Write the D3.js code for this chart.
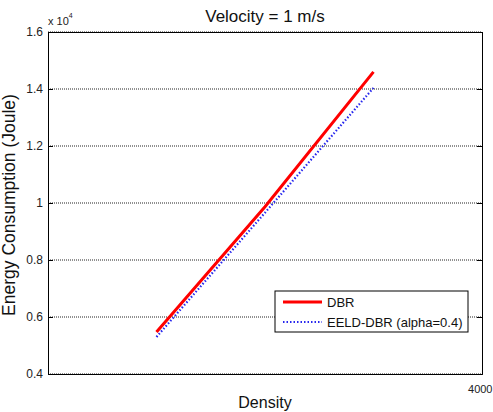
<!DOCTYPE html>
<html><head><meta charset="utf-8">
<script src="https://cdn.jsdelivr.net/npm/d3@7"></script>
<style>body{margin:0;background:#fff}svg{display:block}text{font-family:"Liberation Sans",Arial,sans-serif}</style>
</head><body><svg id="c" width="493" height="412"></svg>
<script>
const density = [1000, 2000, 3000];
const dbr = [5470, 9870, 14600];
const eeld = [5300, 9660, 14040];
const yTicks = [4000, 6000, 8000, 10000, 12000, 14000, 16000];
const yTickLabels = ["0.4", "0.6", "0.8", "1", "1.2", "1.4", "1.6"];
const xTicks = [4000];
const xTickLabels = ["4000"];
const seriesNames = ["DBR", "EELD-DBR (alpha=0.4)"];

const svg = d3.select("#c");
const L = 48, R = 482, T = 32, B = 374;
const x = d3.scaleLinear().domain([0, 4000]).range([L, R]);
const y = d3.scaleLinear().domain([4000, 16000]).range([B, T]);

// gridlines
svg.append("g").selectAll("line").data(yTicks).join("line")
  .attr("x1", L).attr("x2", R).attr("y1", d => y(d)).attr("y2", d => y(d))
  .attr("stroke", "#222").attr("stroke-width", 1).attr("stroke-dasharray", "1,1");

// axes
const yAxis = d3.axisLeft(y).tickValues(yTicks).tickSize(-5).tickPadding(5)
  .tickFormat((d, i) => yTickLabels[i]);
const gy = svg.append("g").attr("transform", `translate(${L},0)`).call(yAxis);
gy.select(".domain").attr("stroke", "#000");
gy.selectAll(".tick text").attr("font-size", 12).attr("fill", "#222");
const gyr = svg.append("g").attr("transform", `translate(${R},0)`)
  .call(d3.axisRight(y).tickValues(yTicks).tickSize(-5).tickFormat(""));
gyr.select(".domain").attr("stroke", "#000");

const xAxis = d3.axisBottom(x).tickValues(xTicks).tickSize(-5).tickPadding(11)
  .tickFormat((d, i) => xTickLabels[i]);
const gx = svg.append("g").attr("transform", `translate(0,${B})`).call(xAxis);
gx.select(".domain").attr("stroke", "#000");
gx.selectAll(".tick text").attr("font-size", 11).attr("fill", "#222")
  .attr("text-anchor", "end").attr("dx", 10);
svg.append("g").attr("transform", `translate(0,${T})`)
  .call(d3.axisTop(x).tickValues(xTicks).tickSize(-5).tickFormat(""))
  .select(".domain").attr("stroke", "#000");

// lines
const line = d3.line().x((d, i) => x(density[i])).y(d => y(d));
svg.append("path").datum(dbr).attr("d", line).attr("fill", "none")
  .attr("stroke", "#f00").attr("stroke-width", 3);
svg.append("path").datum(eeld).attr("d", line).attr("fill", "none")
  .attr("stroke", "#2626ee").attr("stroke-width", 2.2).attr("stroke-dasharray", "1.5,2");

// title and labels
svg.append("text").attr("x", (L + R) / 2).attr("y", 22).attr("text-anchor", "middle")
  .attr("font-size", 17).attr("fill", "#111").text("Velocity = 1 m/s");
const ex = svg.append("text").attr("x", 48).attr("y", 25).attr("font-size", 11).attr("fill", "#222");
ex.append("tspan").text("x 10");
ex.append("tspan").attr("dy", -7).attr("font-size", 7).text("4");
svg.append("text").attr("transform", `translate(15,${(T + B) / 2 + 2}) rotate(-90)`)
  .attr("text-anchor", "middle").attr("font-size", 17.5).attr("fill", "#111")
  .text("Energy Consumption (Joule)");
svg.append("text").attr("x", (L + R) / 2).attr("y", 408).attr("text-anchor", "middle")
  .attr("font-size", 16).attr("fill", "#111").text("Density");

// legend
const lg = svg.append("g");
lg.append("rect").attr("x", 275).attr("y", 291).attr("width", 193).attr("height", 41)
  .attr("fill", "#fff").attr("stroke", "#000").attr("stroke-width", 1);
const lgStyles = [{c: "#f00", w: 3, d: null}, {c: "#2626ee", w: 2.2, d: "1.5,2"}];
seriesNames.forEach((n, i) => {
  const yy = 302 + i * 20;
  lg.append("line").attr("x1", 283).attr("x2", 322).attr("y1", yy).attr("y2", yy)
    .attr("stroke", lgStyles[i].c).attr("stroke-width", lgStyles[i].w)
    .attr("stroke-dasharray", lgStyles[i].d);
  lg.append("text").attr("x", 327).attr("y", yy + 4.5).attr("font-size", 13)
    .attr("fill", "#111").text(n);
});
</script></body></html>
